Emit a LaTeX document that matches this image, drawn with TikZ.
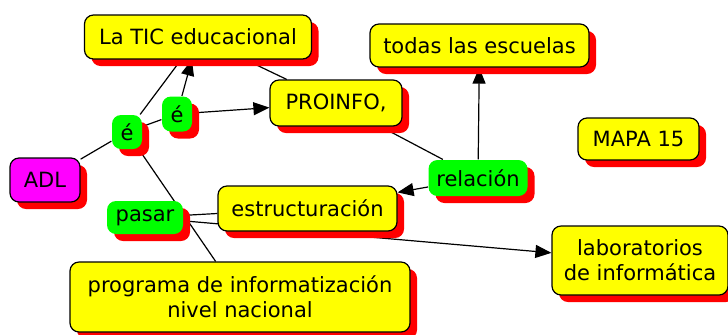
\documentclass[tikz,border=0pt]{standalone}
\usepackage{fontspec}
\setmainfont{DejaVu Sans}
\usetikzlibrary{arrows.meta,shadows,backgrounds}

\definecolor{cmyellow}{RGB}{255,255,0}
\definecolor{cmgreen}{RGB}{0,255,0}
\definecolor{cmmagenta}{RGB}{255,0,255}
\definecolor{cmred}{RGB}{255,0,0}

\tikzset{
  concept/.style={draw=black, line width=0.6pt, rounded corners=4.5pt,
    fill=cmyellow, align=center, inner sep=0pt,
    font=\fontsize{10.5}{12.5}\selectfont,
    drop shadow={shadow xshift=3.5pt, shadow yshift=-3.5pt, fill=cmred, opacity=1}},
  linkword/.style={concept, draw=none, fill=cmgreen},
  rootnode/.style={concept, fill=cmmagenta},
  conn/.style={line width=0.6pt},
  arr/.style={conn, -{Triangle[length=8pt,width=6.5pt]}}
}

\begin{document}
\begin{tikzpicture}[x=0.5pt, y=-0.5pt]
        \useasboundingbox (0,0) rectangle (728,334);
        % concepts
        \node[concept, minimum width=113.5pt, minimum height=22pt]   (tic)      at (198,37)    {La TIC educacional};
        \node[concept, minimum width=109.5pt, minimum height=21.5pt] (todas)    at (479.5,45.5) {todas las escuelas};
        \node[concept, minimum width=66pt,    minimum height=23pt]   (proinfo)  at (336,103)   {PROINFO,};
        \node[concept, minimum width=60.5pt,  minimum height=21pt]   (mapa)     at (638.5,139) {MAPA 15};
        \node[concept, minimum width=89.5pt,  minimum height=22.5pt] (estruct)  at (307.5,208.5) {estructuración};
        \node[concept, minimum width=170pt,   minimum height=35pt]   (programa) at (240,297)   {programa de informatización\\nivel nacional};
        \node[concept, minimum width=88pt,    minimum height=34.5pt] (labs)     at (640,260.5) {laboratorios\\de informática};
        \node[rootnode, minimum width=35pt,   minimum height=22pt]   (adl)      at (45,180)    {ADL};
        % linking words
        \node[linkword, minimum width=15pt,   minimum height=17pt]   (e1)       at (127,132)   {é};
        \node[linkword, minimum width=15pt,   minimum height=17.5pt] (e2)       at (177,114)   {é};
        \node[linkword, minimum width=38pt,   minimum height=16.5pt] (pasar)    at (145,217.5) {pasar};
        \node[linkword, minimum width=49.5pt, minimum height=18pt]   (relacion) at (478,178)   {relación};
        % connectors
        \begin{pgfonlayer}{background}
          \draw[conn] (adl)      -- (e1);
          \draw[conn] (e1)       -- (tic);
          \draw[conn] (e1)       -- (e2);
          \draw[conn] (e1)       -- (programa);
          \draw[arr]  (e2)       -- (tic);
          \draw[arr]  (e2)       -- (proinfo);
          \draw[conn] (tic)      -- (proinfo);
          \draw[conn] (proinfo)  -- (relacion);
          \draw[arr]  (relacion) -- (todas);
          \draw[arr]  (relacion) -- (estruct);
          \draw[conn] (pasar)    -- (estruct);
          \draw[arr]  (pasar)    -- (labs);
        \end{pgfonlayer}
\end{tikzpicture}
\end{document}
